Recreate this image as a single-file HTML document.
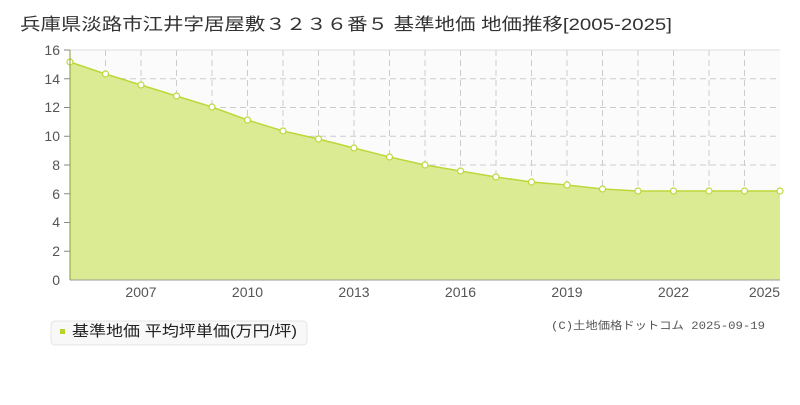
<!DOCTYPE html>
<html><head><meta charset="utf-8"><style>
body{margin:0;background:#fff;width:800px;height:400px;overflow:hidden;font-family:"Liberation Sans","Noto Sans CJK JP",sans-serif}
</style></head><body>
<svg width="800" height="400" xmlns="http://www.w3.org/2000/svg" font-family="Liberation Sans, Noto Sans CJK JP, sans-serif">
<text x="20" y="30" font-size="17" fill="#333" textLength="652" lengthAdjust="spacingAndGlyphs">兵庫県淡路市江井字居屋敷３２３６番５ 基準地価 地価推移[2005-2025]</text>
<rect x="70" y="50" width="710" height="230" fill="#fcfbfc"/>
<g stroke="#ccc" stroke-dasharray="6,4" stroke-width="1">
<line x1="70" x2="780" y1="78.75" y2="78.75"/><line x1="70" x2="780" y1="107.5" y2="107.5"/><line x1="70" x2="780" y1="136.25" y2="136.25"/><line x1="70" x2="780" y1="165" y2="165"/><line x1="70" x2="780" y1="193.75" y2="193.75"/><line x1="70" x2="780" y1="222.5" y2="222.5"/><line x1="70" x2="780" y1="251.25" y2="251.25"/>
<line y1="50" y2="280" x1="105.5" x2="105.5"/><line y1="50" y2="280" x1="141" x2="141"/><line y1="50" y2="280" x1="176.5" x2="176.5"/><line y1="50" y2="280" x1="212" x2="212"/><line y1="50" y2="280" x1="247.5" x2="247.5"/><line y1="50" y2="280" x1="283" x2="283"/><line y1="50" y2="280" x1="318.5" x2="318.5"/><line y1="50" y2="280" x1="354" x2="354"/><line y1="50" y2="280" x1="389.5" x2="389.5"/><line y1="50" y2="280" x1="425" x2="425"/><line y1="50" y2="280" x1="460.5" x2="460.5"/><line y1="50" y2="280" x1="496" x2="496"/><line y1="50" y2="280" x1="531.5" x2="531.5"/><line y1="50" y2="280" x1="567" x2="567"/><line y1="50" y2="280" x1="602.5" x2="602.5"/><line y1="50" y2="280" x1="638" x2="638"/><line y1="50" y2="280" x1="673.5" x2="673.5"/><line y1="50" y2="280" x1="709" x2="709"/><line y1="50" y2="280" x1="744.5" x2="744.5"/>
</g>
<line x1="70" x2="780" y1="50" y2="50" stroke="#ddd"/>
<polygon fill="#dbeb94" points="70,280 70,62 105.5,74 141,85 176.5,96 212,107 247.5,120 283,131 318.5,139 354,148 389.5,157 425,165 460.5,171 496,177 531.5,182 567,185 602.5,189 638,191 673.5,191 709,191 744.5,191 780,191 780,280"/>
<polyline fill="none" stroke="#bcd83a" stroke-width="1.5" points="70,62 105.5,74 141,85 176.5,96 212,107 247.5,120 283,131 318.5,139 354,148 389.5,157 425,165 460.5,171 496,177 531.5,182 567,185 602.5,189 638,191 673.5,191 709,191 744.5,191 780,191"/>
<g fill="#fff" stroke="#bcd83a" stroke-width="1.2">
<circle cx="70" cy="62" r="3"/><circle cx="105.5" cy="74" r="3"/><circle cx="141" cy="85" r="3"/><circle cx="176.5" cy="96" r="3"/><circle cx="212" cy="107" r="3"/><circle cx="247.5" cy="120" r="3"/><circle cx="283" cy="131" r="3"/><circle cx="318.5" cy="139" r="3"/><circle cx="354" cy="148" r="3"/><circle cx="389.5" cy="157" r="3"/><circle cx="425" cy="165" r="3"/><circle cx="460.5" cy="171" r="3"/><circle cx="496" cy="177" r="3"/><circle cx="531.5" cy="182" r="3"/><circle cx="567" cy="185" r="3"/><circle cx="602.5" cy="189" r="3"/><circle cx="638" cy="191" r="3"/><circle cx="673.5" cy="191" r="3"/><circle cx="709" cy="191" r="3"/><circle cx="744.5" cy="191" r="3"/><circle cx="780" cy="191" r="3"/>
</g>
<line x1="70" x2="70" y1="50" y2="280" stroke="#8a9a3a"/>
<line x1="70" x2="780" y1="280" y2="280" stroke="#999"/>
<g font-size="14" fill="#555" text-anchor="end">
<text x="60" y="55">16</text><text x="60" y="84">14</text><text x="60" y="112">12</text><text x="60" y="141">10</text><text x="60" y="170">8</text><text x="60" y="199">6</text><text x="60" y="227">4</text><text x="60" y="256">2</text><text x="60" y="285">0</text>
</g>
<g stroke="#888"><line x1="64" x2="70" y1="50" y2="50"/><line x1="64" x2="70" y1="78.75" y2="78.75"/><line x1="64" x2="70" y1="107.5" y2="107.5"/><line x1="64" x2="70" y1="136.25" y2="136.25"/><line x1="64" x2="70" y1="165" y2="165"/><line x1="64" x2="70" y1="193.75" y2="193.75"/><line x1="64" x2="70" y1="222.5" y2="222.5"/><line x1="64" x2="70" y1="251.25" y2="251.25"/></g>
<g font-size="14" fill="#555" text-anchor="middle">
<text x="141" y="297">2007</text><text x="247.5" y="297">2010</text><text x="354" y="297">2013</text><text x="460.5" y="297">2016</text><text x="567" y="297">2019</text><text x="673.5" y="297">2022</text><text x="780" y="297" text-anchor="end">2025</text>
</g>
<rect x="51" y="321" width="256" height="24" rx="4" fill="#f8f8f8" stroke="#e4e4e4"/>
<rect x="60" y="329" width="5" height="5" fill="#b5d42c"/>
<text x="72" y="336" font-size="15" fill="#222" textLength="225" lengthAdjust="spacingAndGlyphs">基準地価 平均坪単価(万円/坪)</text>
<text x="551" y="329" font-size="11" fill="#555" textLength="214" lengthAdjust="spacingAndGlyphs" font-family="Liberation Mono, Noto Sans CJK JP, monospace">(C)土地価格ドットコム 2025-09-19</text>
</svg>
</body></html>
